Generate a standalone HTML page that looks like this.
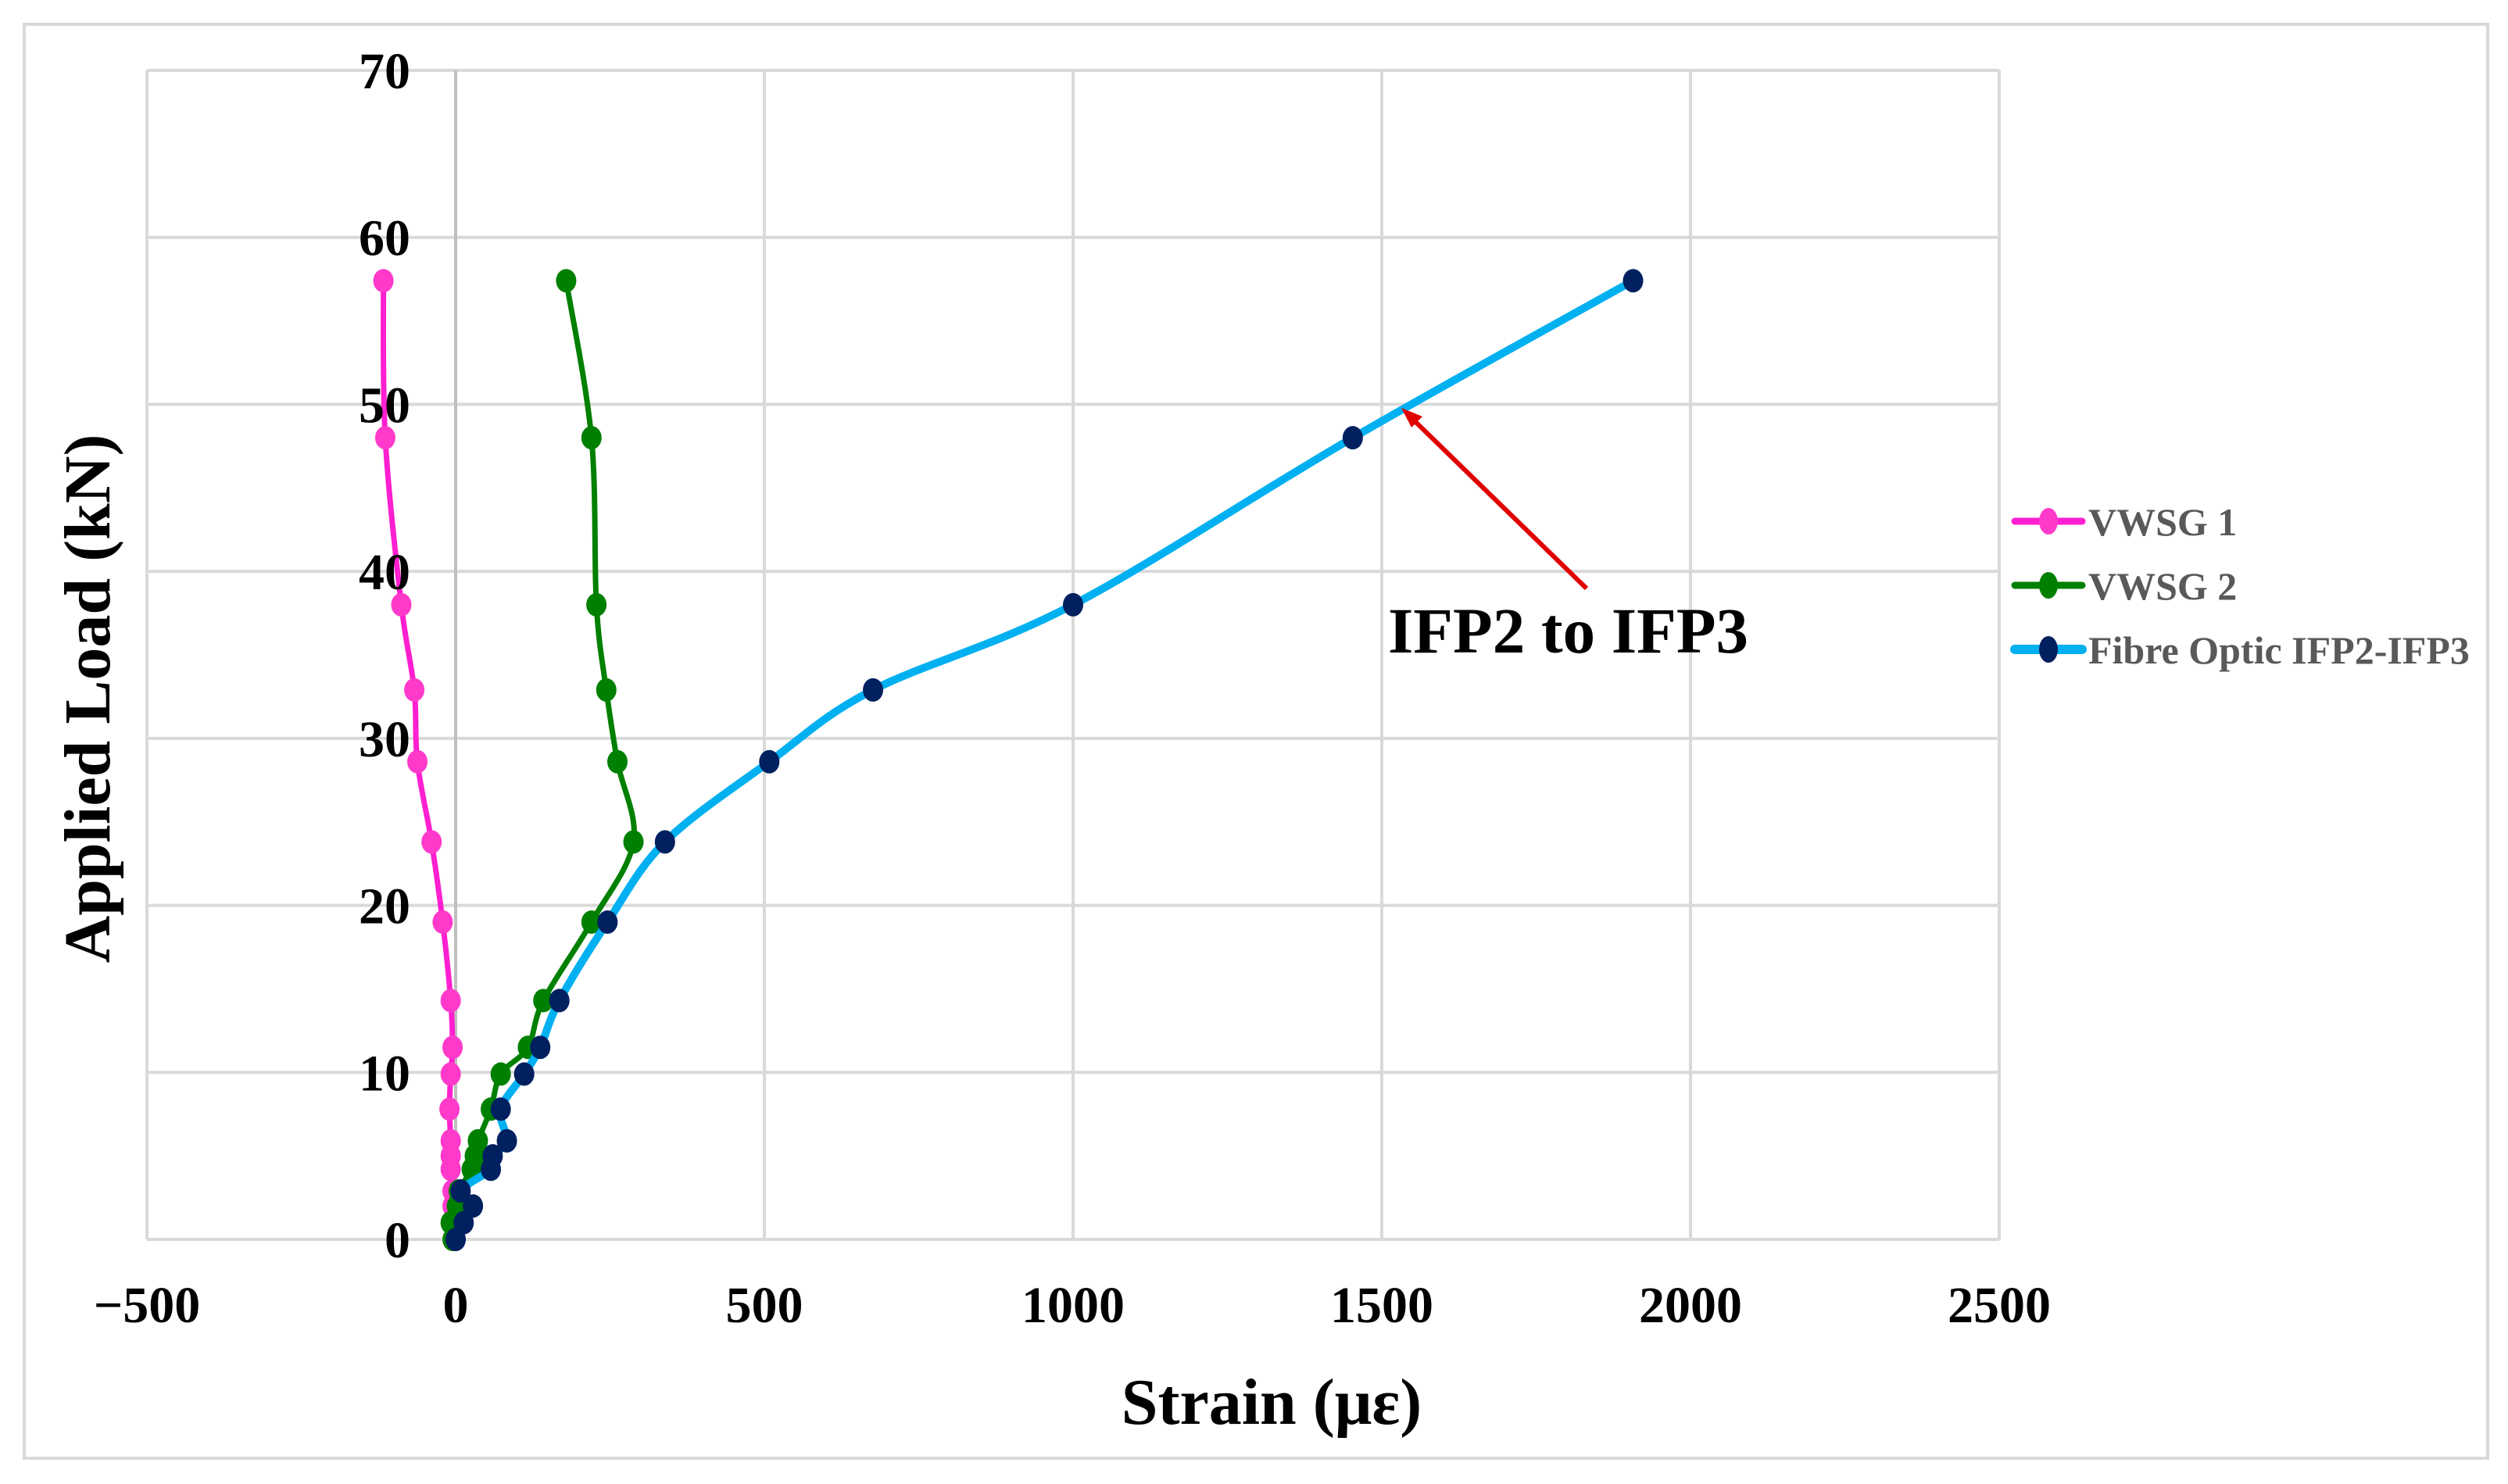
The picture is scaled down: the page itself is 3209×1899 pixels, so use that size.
<!DOCTYPE html>
<html><head><meta charset="utf-8"><style>
html,body{margin:0;padding:0;background:#fff;}
svg{display:block;font-family:"Liberation Serif",serif;}
</style></head><body>
<svg id="chart" width="3209" height="1899" viewBox="0 0 3209 1899" xmlns="http://www.w3.org/2000/svg">
<rect x="31" y="31" width="3152" height="1835" fill="#fff" stroke="#d9d9d9" stroke-width="4"/>
<g id="grid"></g>
<g id="series"></g>
<g id="ticks"></g>
<text x="1627" y="1822" font-size="84" font-weight="bold" text-anchor="middle">Strain (με)</text>
<text transform="translate(140,894) rotate(-90)" font-size="84" font-weight="bold" text-anchor="middle">Applied Load (kN)</text>
<g>
<line x1="2030" y1="753" x2="1800" y2="529" stroke="#e00000" stroke-width="6"/>
<polygon points="1793,522 1820,533 1806,547" fill="#e00000"/>
<text x="1776" y="835" font-size="83" font-weight="bold">IFP2 to IFP3</text>
</g>
<g id="legend"></g>
</svg>
<script>
const loads = [57.4,48,38,32.9,28.6,23.8,19,14.3,11.5,9.9,7.8,5.9,5.0,4.2,2.9,2.0,1.0,0];
const vwsg1 = [-117,-114,-88,-67,-62,-39,-21,-8,-5,-8,-10,-8,-8,-8,-5,-5,-3,0];
const vwsg2 = [179,220,228,244,262,288,220,142,117,73,57,36,31,26,5,2,-8,-5];
const fibre = [1907,1453,1000,676,508,339,246,168,137,111,73,83,60,57,8,28,13,0];
const xTicks = [-500,0,500,1000,1500,2000,2500];
const yTicks = [0,10,20,30,40,50,60,70];
const NS='http://www.w3.org/2000/svg';
const X0=188,X1=2558,Y0=1586,Y1=90;
function xs(v){return X0+(v+500)/3000*(X1-X0);}
function ys(v){return Y0-v/70*(Y0-Y1);}
function mk(tag,attrs,parent){const e=document.createElementNS(NS,tag);for(const k in attrs)e.setAttribute(k,attrs[k]);parent.appendChild(e);return e;}
const grid=document.getElementById('grid'),ticks=document.getElementById('ticks'),ser=document.getElementById('series'),leg=document.getElementById('legend');
yTicks.forEach(t=>{
  const l=mk('line',{x1:X0,x2:X1,y1:ys(t),y2:ys(t),stroke:'#d9d9d9','stroke-width':4},grid);
  
  
  const tx=mk('text',{x:xs(0)-58,y:ys(t)+23,'font-size':66,'font-weight':'bold','text-anchor':'end'},ticks);
  tx.textContent=t;
  
  
});
xTicks.forEach(t=>{
  const l=mk('line',{x1:xs(t),x2:xs(t),y1:Y1,y2:Y0,stroke:t===0?'#bfbfbf':'#d9d9d9','stroke-width':4},grid);
  
  
  const tx=mk('text',{x:xs(t),y:1692,'font-size':66,'font-weight':'bold','text-anchor':'middle'},ticks);
  tx.textContent=t<0?'\u2212'+(-t):t;
  
  
});
function smooth(pts){
  let d='M'+pts[0][0]+','+pts[0][1];
  for(let i=0;i<pts.length-1;i++){
    const p0=pts[i-1]||pts[i],p1=pts[i],p2=pts[i+1],p3=pts[i+2]||p2;
    const c1=[p1[0]+(p2[0]-p0[0])/6,p1[1]+(p2[1]-p0[1])/6];
    const c2=[p2[0]-(p3[0]-p1[0])/6,p2[1]-(p3[1]-p1[1])/6];
    d+=' C'+c1[0]+','+c1[1]+' '+c2[0]+','+c2[1]+' '+p2[0]+','+p2[1];
  }
  return d;
}
const defs=[
  {name:'vwsg-1',vals:vwsg1,line:'#ff1fd0',mark:'#ff3acb',w:7,label:'VWSG 1'},
  {name:'vwsg-2',vals:vwsg2,line:'#008000',mark:'#008000',w:7,label:'VWSG 2'},
  {name:'fibre-optic',vals:fibre,line:'#00b0f0',mark:'#002060',w:10,label:'Fibre Optic IFP2-IFP3'}
];
defs.forEach((s,si)=>{
  const pts=s.vals.map((v,i)=>[xs(v),ys(loads[i])]);
  const p=mk('path',{d:smooth(pts),fill:'none',stroke:s.line,'stroke-width':s.w,'stroke-linejoin':'round'},ser);
  
  
  pts.forEach(pt=>{
    const c=mk('ellipse',{cx:pt[0],cy:pt[1],rx:13,ry:15,fill:s.mark},ser);
    
    
  });
  const ly=667+si*82;
  const ll=mk('line',{x1:2578,x2:2664,y1:ly,y2:ly,stroke:s.line,'stroke-width':s.w+2,'stroke-linecap':'round'},leg);
  
  
  const lm=mk('ellipse',{cx:2621,cy:ly,rx:12,ry:17,fill:s.mark},leg);
  
  
  const lt=mk('text',{x:2672,y:ly+18,'font-size':50,'font-weight':'bold',fill:'#595959'},leg);
  lt.textContent=s.label;
  
  
});
</script>
</body></html>
